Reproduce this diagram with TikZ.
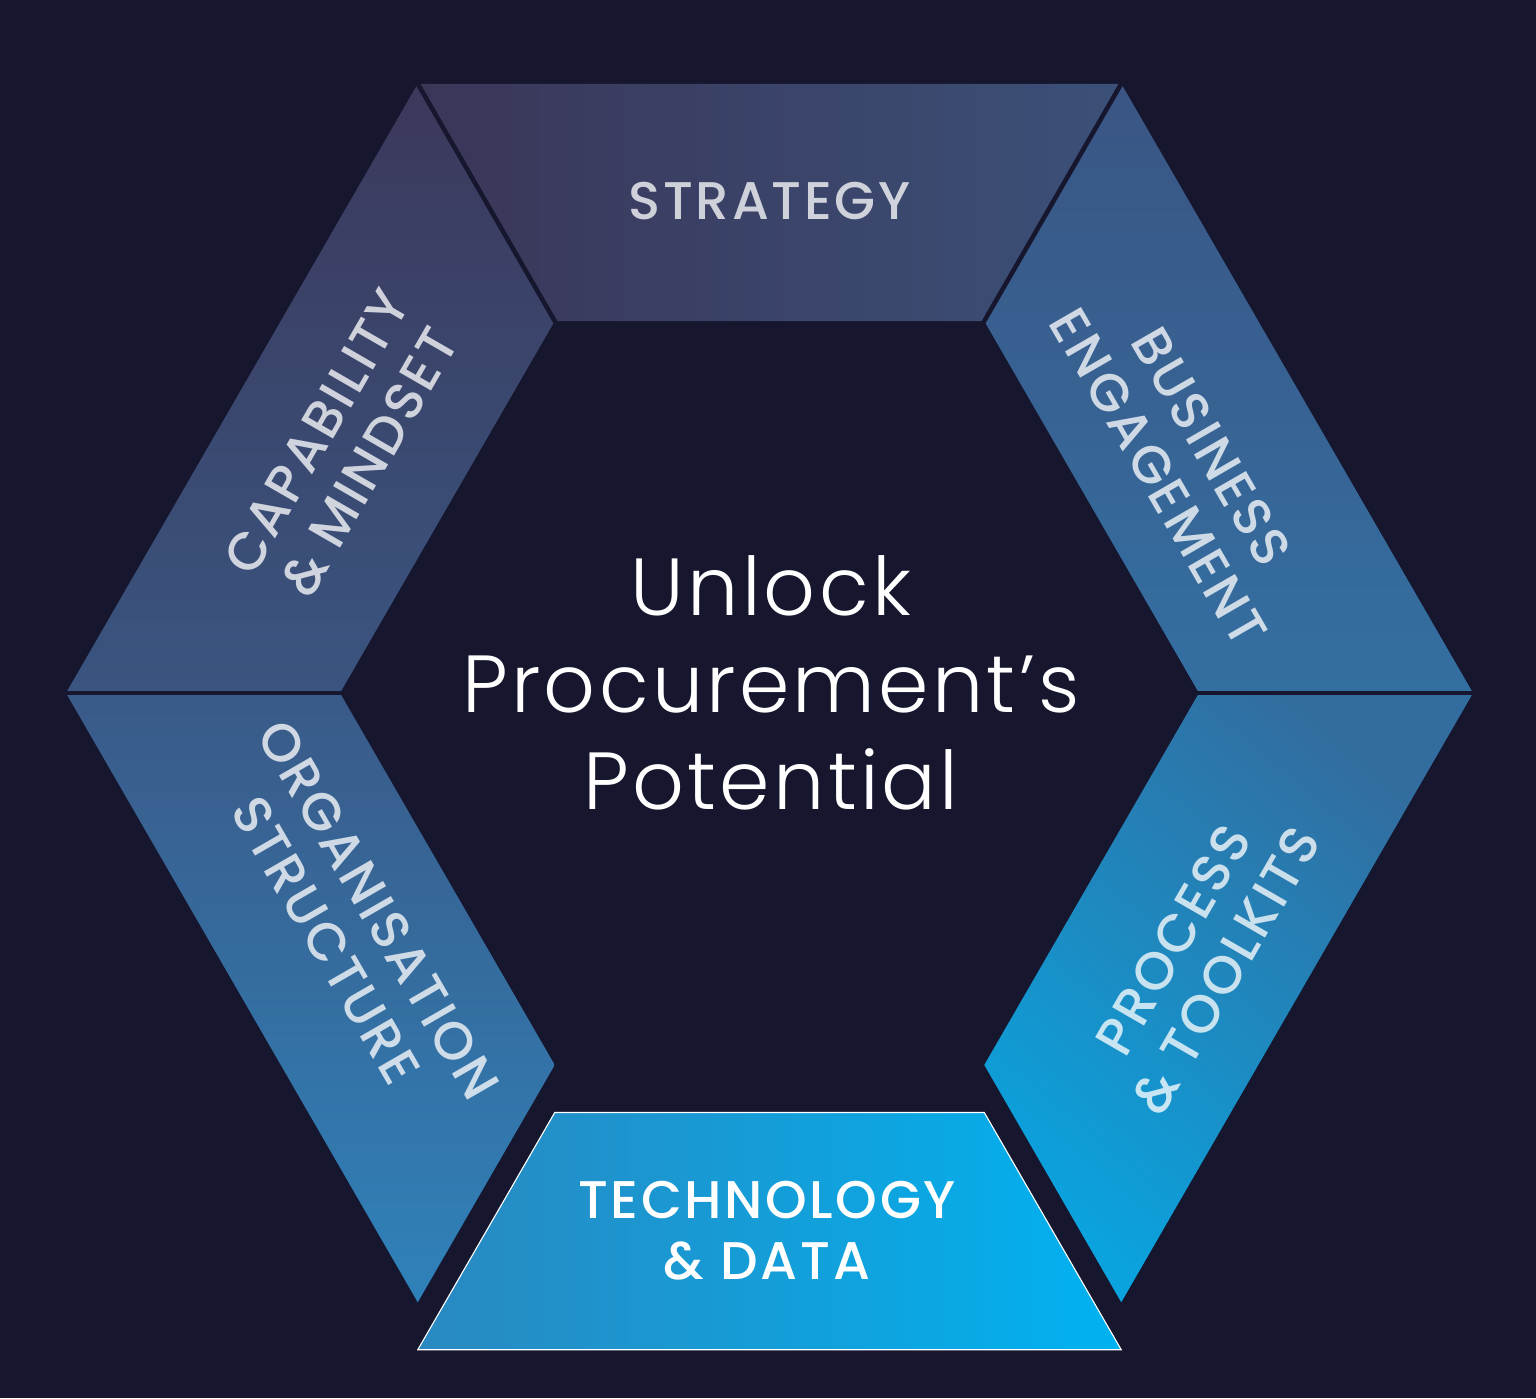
\documentclass[tikz,border=0pt]{standalone}
\usepackage{fontspec}
\setmainfont{Poppins}
\newfontfamily\lightfont{Poppins}[UprightFont={* Light}, LetterSpace=4]
\newfontfamily\medfont{Poppins}[UprightFont={* Medium}, LetterSpace=5]
\usetikzlibrary{calc}
\definecolor{bg}{HTML}{16162E}
\definecolor{stratL}{HTML}{3A3658}
\definecolor{stratR}{HTML}{3B5078}
\definecolor{capT}{HTML}{3B385B}
\definecolor{capB}{HTML}{3A5580}
\definecolor{busT}{HTML}{3A5583}
\definecolor{busB}{HTML}{346FA2}
\definecolor{orgT}{HTML}{3A5A88}
\definecolor{orgB}{HTML}{2F82BA}
\definecolor{procT}{HTML}{336C9E}
\definecolor{procB}{HTML}{0AA3DE}
\definecolor{techL}{HTML}{2A88C0}
\definecolor{techR}{HTML}{00B2F0}
\tikzset{
  seglab/.style={font=\medfont\fontsize{53}{61}\selectfont, text=white, text opacity=0.76, align=center, inner sep=0pt},
  gapline/.style={draw=bg, line width=4.5pt, line cap=butt},
}
\begin{document}
\begin{tikzpicture}[x=1pt,y=1pt]
\fill[bg] (0,0) rectangle (1536,-1398);
\useasboundingbox (0,0) rectangle (1536,-1398);
\coordinate (C) at (769.5,-693);
\foreach \a [count=\i from 0] in {0,60,...,300}{
  \coordinate (O\i) at ($(C)+(\a:703.5)$);
  \coordinate (I\i) at ($(C)+(\a:429.5)$);
}
% segments
\path[left color=stratL, right color=stratR] (O1) -- (O2) -- (I2) -- (I1) -- cycle;
\path[top color=capT, bottom color=capB] (O2) -- (O3) -- (I3) -- (I2) -- cycle;
\path[top color=orgT, bottom color=orgB] (O3) -- (O4) -- (I4) -- (I3) -- cycle;
\path[top color=busT, bottom color=busB] (O0) -- (O1) -- (I1) -- (I0) -- cycle;
\path[top color=procT, bottom color=procB, shading angle=-40] (O5) -- (O0) -- (I0) -- (I5) -- cycle;
\path[left color=techL, right color=techR, draw=white, line width=1.1pt]
  ([yshift=-47.5pt]O4) -- ([yshift=-47.5pt]O5) -- ([yshift=-47.5pt]I5) -- ([yshift=-47.5pt]I4) -- cycle;
% gaps between segments
\foreach \i in {0,1,2,3}{
  \draw[gapline] ($(O\i)!1.06!(I\i)$) -- ($(I\i)!1.03!(O\i)$);
}
% labels
\node[seglab] (strategy) at (769.5,-201) {STRATEGY};
\node[seglab, rotate=60] (capability) at (343,-447) {CAPABILITY\\\& MINDSET};
\node[seglab, rotate=-60] (business) at (1185,-462) {BUSINESS\\ENGAGEMENT};
\node[seglab, rotate=-60] (organisation) at (352,-925) {ORGANISATION\\STRUCTURE};
\node[seglab, rotate=60] (process) at (1200,-955) {PROCESS\\\& TOOLKITS};
\node[seglab, text opacity=1] (technology) at (767,-1231) {TECHNOLOGY\\\& DATA};
\node[font=\lightfont\fontsize{81}{97}\selectfont, text=white, align=center, inner sep=0pt] (title) at (771,-683) {Unlock\\Procurement’s\\Potential};
\end{tikzpicture}
\end{document}
